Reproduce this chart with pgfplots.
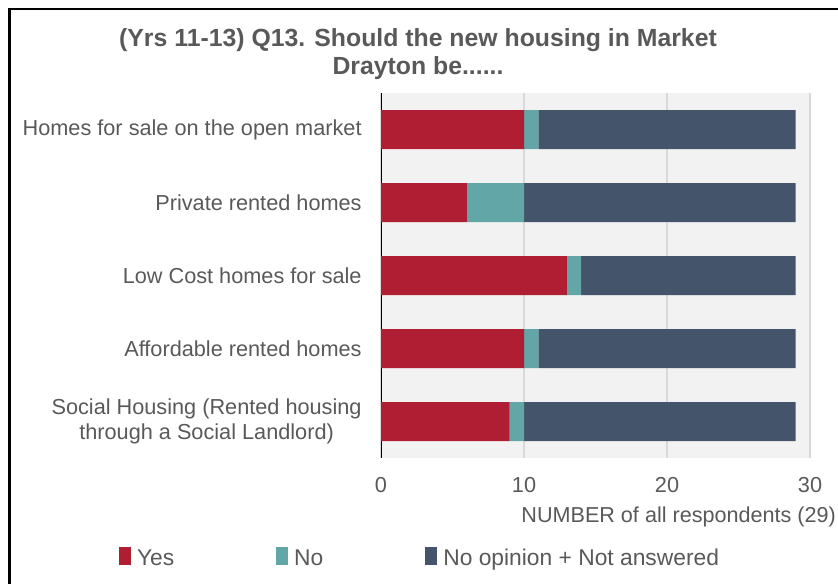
\documentclass[border=0pt]{standalone}
\usepackage{pgfplots}
\pgfplotsset{compat=1.18}
\usepackage{fontspec}
\setmainfont{Liberation Sans}
\definecolor{yescol}{HTML}{B01E34}
\definecolor{nocol}{HTML}{63A6A7}
\definecolor{nopcol}{HTML}{44546A}
\definecolor{txtgray}{HTML}{595959}
\definecolor{bggray}{HTML}{F2F2F2}
\definecolor{gridgray}{HTML}{D9D9D9}
\pgfplotstableread{
y yes no nop
0 9 1 19
1 10 1 18
2 13 1 15
3 6 4 19
4 10 1 18
}\datatable
\begin{document}
\begin{tikzpicture}
\useasboundingbox (0,0) rectangle (419pt,-291.5pt);
\clip (0,0) rectangle (419pt,-291.5pt);
\draw[line width=1.2pt] (4.8pt,-320pt) -- (4.8pt,-4.6pt) -- (440pt,-4.6pt);
\node[align=center, font=\fontsize{12.4}{14}\selectfont\bfseries, text=txtgray] at (209pt,-27pt)
 {(Yrs 11-13) Q13. Should the new housing in Market\\Drayton be......};
\begin{axis}[
 at={(190.5pt,-229pt)}, anchor=south west,
 scale only axis, width=214.5pt, height=182.5pt,
 xbar stacked, bar width=19.5pt,
 xmin=0, xmax=30, ymin=-0.5, ymax=4.5,
 xtick={0,10,20,30}, ytick={0,1,2,3,4},
 yticklabels={{Social Housing (Rented housing\\through a Social Landlord)},Affordable rented homes,Low Cost homes for sale,Private rented homes,Homes for sale on the open market},
 yticklabel style={align=center, inner sep=0pt, anchor=east, xshift=-9.5pt, font=\fontsize{10.85}{12.5}\selectfont, text=txtgray},
 xticklabel style={inner sep=0pt, anchor=north, yshift=-9.5pt, font=\fontsize{10.85}{12.5}\selectfont, text=txtgray},
 /pgf/number format/assume math mode=true,
 axis background/.style={fill=bggray},
 xmajorgrids, grid style={gridgray, line width=0.6pt},
 axis line style={draw=none},
 major tick style={draw=none},
 legend columns=3,
 legend style={draw=none, fill=none, inner sep=0pt, outer sep=0pt,
   at={(-0.6107,-0.2740)}, anchor=west,
   font=\fontsize{11.4}{13}\selectfont, text=txtgray,
   nodes={inner sep=0pt},
   /tikz/every odd column/.append style={column sep=3pt},
   /tikz/every even column/.append style={column sep=51pt}},
 legend image code/.code={\path (0pt,-3pt) rectangle (6pt,6pt);\fill[#1] (0pt,-3pt) rectangle (6pt,3pt);},
]
\addplot[fill=yescol, draw=none] table[x=yes, y=y] {\datatable};
\addlegendentry{Yes}
\addplot[fill=nocol, draw=none] table[x=no, y=y] {\datatable};
\addlegendentry{No}
\addplot[fill=nopcol, draw=none] table[x=nop, y=y] {\datatable};
\addlegendentry{No opinion + Not answered}
\draw[black, line width=0.8pt] (rel axis cs:0,0) -- (rel axis cs:0,1);
\end{axis}
\node[anchor=base west, inner sep=0pt, font=\fontsize{10.8}{12.5}\selectfont, text=txtgray] at (260.5pt,-261pt) {NUMBER of all respondents (29)};
\end{tikzpicture}
\end{document}
